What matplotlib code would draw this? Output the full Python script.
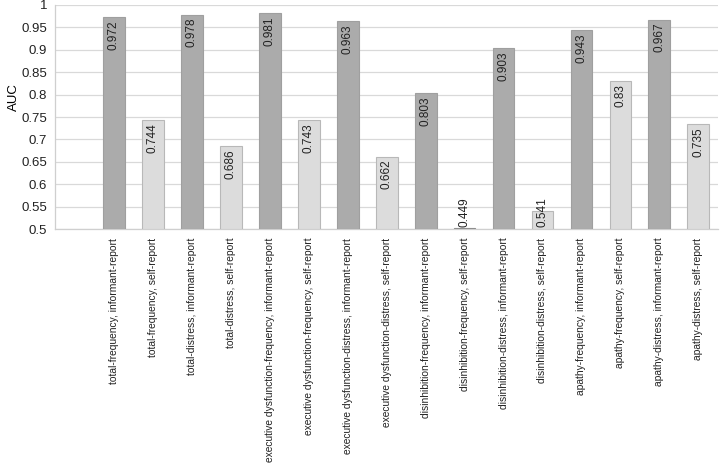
import matplotlib
matplotlib.use('Agg')
from matplotlib import pyplot as plt

plt.rcParams['font.family'] = ['Liberation Sans', 'DejaVu Sans']

labels = [
    'total-frequency, informant-report',
    'total-frequency, self-report',
    'total-distress, informant-report',
    'total-distress, self-report',
    'executive dysfunction-frequency, informant-report',
    'executive dysfunction-frequency, self-report',
    'executive dysfunction-distress, informant-report',
    'executive dysfunction-distress, self-report',
    'disinhibition-frequency, informant-report',
    'disinhibition-frequency, self-report',
    'disinhibition-distress, informant-report',
    'disinhibition-distress, self-report',
    'apathy-frequency, informant-report',
    'apathy-frequency, self-report',
    'apathy-distress, informant-report',
    'apathy-distress, self-report',
]
auc = [0.972, 0.744, 0.978, 0.686, 0.981, 0.743, 0.963, 0.662,
       0.803, 0.449, 0.903, 0.541, 0.943, 0.83, 0.967, 0.735]
value_text = ['0.972', '0.744', '0.978', '0.686', '0.981', '0.743', '0.963', '0.662',
              '0.803', '0.449', '0.903', '0.541', '0.943', '0.83', '0.967', '0.735']

base = 0.5
dark, light = '#ababab', '#dcdcdc'

fig = plt.figure(figsize=(7.2, 4.68), dpi=100)
ax = fig.add_axes([0.077, 0.51, 0.92, 0.48])

xs = list(range(len(auc)))
for i, v in enumerate(auc):
    informant = 'informant' in labels[i]
    face = dark if informant else light
    edge = '#9f9f9f' if informant else '#b8b8b8'
    if v > base:
        ax.bar(i, v - base, bottom=base, width=0.56, color=face, edgecolor=edge,
               linewidth=0.8, zorder=3)
    else:
        # value below axis minimum: only a sliver shows at the baseline
        ax.bar(i, 0.002, bottom=base, width=0.56, color='#8f8f8f',
               edgecolor='#8f8f8f', linewidth=0.8, zorder=3)
    if v - base > 0.07:
        ax.text(i, v - 0.007, value_text[i], rotation=90,
                ha='center', va='top', fontsize=8.5, color='#222222', zorder=4)
    else:
        ax.text(i, base + 0.006, value_text[i], rotation=90,
                ha='center', va='bottom', fontsize=8.5, color='#222222', zorder=4)

ax.set_xlim(-1.5, 15.5)
ax.set_ylim(0.5, 1.0)
ax.set_yticks([0.5, 0.55, 0.6, 0.65, 0.7, 0.75, 0.8, 0.85, 0.9, 0.95, 1.0])
ax.set_yticklabels(['0.5', '0.55', '0.6', '0.65', '0.7', '0.75', '0.8', '0.85',
                    '0.9', '0.95', '1'])
ax.yaxis.grid(True, color='#d9d9d9', linewidth=0.9, zorder=0)
ax.set_xticks(xs)
ax.set_xticklabels(labels, rotation=90, fontsize=7.4, color='#222222')
ax.tick_params(axis='x', length=0, pad=6)
ax.tick_params(axis='y', length=0, labelsize=9.5, pad=6, colors='#222222')
ax.set_ylabel('AUC', fontsize=9.5)
ax.yaxis.set_label_coords(-0.054, 0.59)

for s in ['top', 'right']:
    ax.spines[s].set_visible(False)
for s in ['left', 'bottom']:
    ax.spines[s].set_color('#cfcfcf')
    ax.spines[s].set_linewidth(0.9)

fig.savefig('out.png', dpi=100)
